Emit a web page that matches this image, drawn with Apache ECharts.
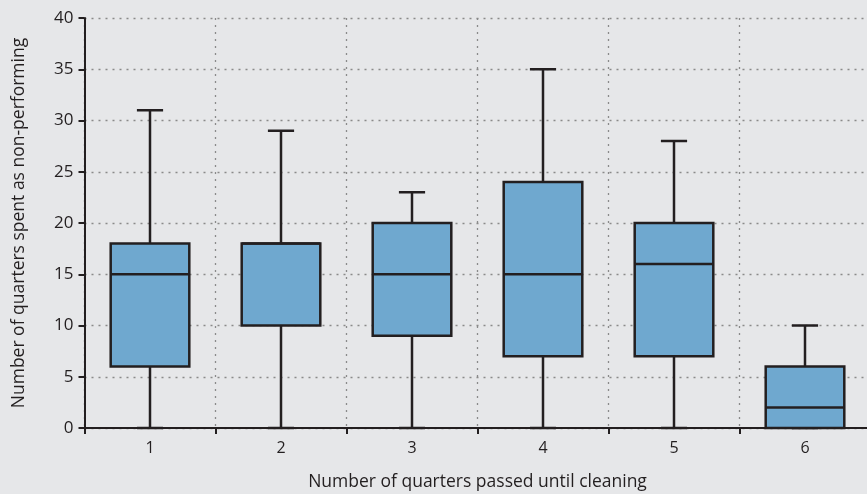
<!DOCTYPE html>
<html>
<head>
<meta charset="utf-8">
<script src="https://cdn.jsdelivr.net/npm/echarts@6/dist/echarts.min.js"></script>
<style>
html,body{margin:0;padding:0;background:#e6e7e9;}
#c{width:867px;height:494px;}
</style>
</head>
<body>
<div id="c"></div>
<script>
const categories = ['1','2','3','4','5','6'];
const mins    = [0, 0, 0, 0, 0, 0];
const q1s     = [6, 10, 9, 7, 7, 0];
const medians = [15, 18, 15, 15, 16, 2];
const q3s     = [18, 18, 20, 24, 20, 6];
const maxs    = [31, 29, 23, 35, 28, 10];
const yTicks  = [0, 5, 10, 15, 20, 25, 30, 35, 40];

const data = categories.map((c, i) => [i, mins[i], q1s[i], medians[i], q3s[i], maxs[i]]);
const INK = '#231f20';

const chart = echarts.init(document.getElementById('c'), null, {renderer: 'canvas'});
chart.setOption({
  backgroundColor: '#e6e7e9',
  animation: false,
  grid: {left: 84.5, top: 18, width: 786, height: 410, containLabel: false, outerBoundsMode: 'none'},
  xAxis: {
    type: 'category',
    data: categories,
    boundaryGap: true,
    name: 'Number of quarters passed until cleaning',
    nameLocation: 'middle',
    nameGap: 45,
    nameTextStyle: {fontFamily: 'Open Sans', fontSize: 17.5, color: '#231f20'},
    axisLine: {lineStyle: {color: INK, width: 2}},
    axisTick: {show: true, inside: false, length: 6, lineStyle: {color: INK, width: 2}},
    axisLabel: {fontFamily: 'Open Sans', fontSize: 16, color: '#231f20', margin: 12},
    splitLine: {show: true, lineStyle: {color: '#8a8a8a', type: [2, 5], width: 1.3}}
  },
  yAxis: {
    type: 'value',
    min: 0, max: 40, interval: 5,
    name: 'Number of quarters spent as non-performing',
    nameLocation: 'middle',
    nameGap: 56,
    nameTextStyle: {fontFamily: 'Open Sans', fontSize: 17.5, color: '#231f20'},
    axisLine: {show: true, lineStyle: {color: INK, width: 2}},
    axisTick: {show: true, length: 6, lineStyle: {color: INK, width: 2}},
    axisLabel: {fontFamily: 'Open Sans', fontSize: 17, color: '#231f20', margin: 11,
      formatter: v => yTicks.includes(v) ? String(v) : ''},
    splitLine: {show: true, lineStyle: {color: '#8a8a8a', type: [2, 5], width: 1.3}}
  },
  series: [{
    type: 'custom',
    data: data,
    encode: {x: 0, y: [1, 2, 3, 4, 5]},
    renderItem: function (params, api) {
      const x = api.value(0);
      const band = api.size([1, 0])[0];
      const bw = band * 0.6;
      const cw = band * 0.2;
      const pMin = api.coord([x, api.value(1)]);
      const pQ1 = api.coord([x, api.value(2)]);
      const pMed = api.coord([x, api.value(3)]);
      const pQ3 = api.coord([x, api.value(4)]);
      const pMax = api.coord([x, api.value(5)]);
      const cx = pMin[0];
      const line = {stroke: INK, lineWidth: 2.5};
      return {
        type: 'group',
        children: [
          {type: 'line', shape: {x1: cx, y1: pQ3[1], x2: cx, y2: pMax[1]}, style: line},
          {type: 'line', shape: {x1: cx, y1: pQ1[1], x2: cx, y2: pMin[1]}, style: line},
          {type: 'line', shape: {x1: cx - cw / 2, y1: pMax[1], x2: cx + cw / 2, y2: pMax[1]}, style: line},
          {type: 'line', shape: {x1: cx - cw / 2, y1: pMin[1], x2: cx + cw / 2, y2: pMin[1]}, style: line},
          {type: 'rect', shape: {x: cx - bw / 2, y: pQ3[1], width: bw, height: pQ1[1] - pQ3[1]},
            style: {fill: '#6fa8cf', stroke: INK, lineWidth: 2.5}},
          {type: 'line', shape: {x1: cx - bw / 2, y1: pMed[1], x2: cx + bw / 2, y2: pMed[1]}, style: line}
        ]
      };
    }
  }]
});
</script>
</body>
</html>
